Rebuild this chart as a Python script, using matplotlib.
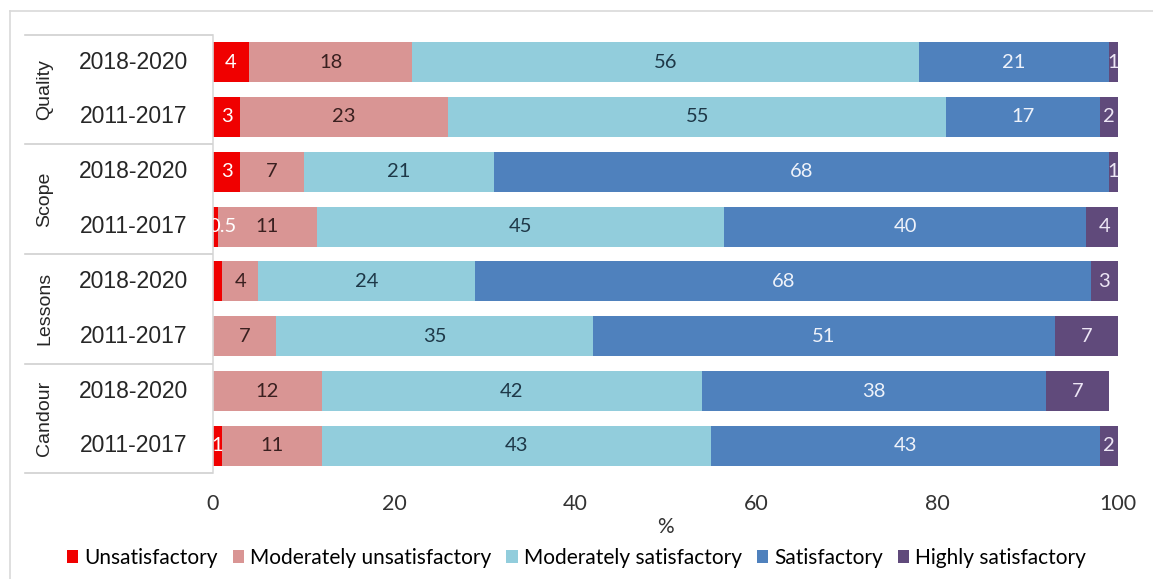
import matplotlib
matplotlib.use("Agg")
import matplotlib.pyplot as plt
from matplotlib.lines import Line2D
from matplotlib.patches import Patch

# Evaluation ratings by criterion and period (%)
criteria = ["Quality", "Scope", "Lessons", "Candour"]
periods = ["2018-2020", "2011-2017"]
rating_names = ["Unsatisfactory", "Moderately unsatisfactory",
                "Moderately satisfactory", "Satisfactory", "Highly satisfactory"]

# rows in drawing order: (criterion, period)
unsatisfactory = [4, 3, 3, 0.5, 1, 0, 0, 1]
moderately_unsatisfactory = [18, 23, 7, 11, 4, 7, 12, 11]
moderately_satisfactory = [56, 55, 21, 45, 24, 35, 42, 43]
satisfactory = [21, 17, 68, 40, 68, 51, 38, 43]
highly_satisfactory = [1, 2, 1, 4, 3, 7, 7, 2]

# which segments carry a printed value
label_shown = [
    [True, True, True, True, False, False, False, True],
    [True] * 8,
    [True] * 8,
    [True] * 8,
    [True] * 8,
]

series = [unsatisfactory, moderately_unsatisfactory, moderately_satisfactory,
          satisfactory, highly_satisfactory]
colors = ["#F00000", "#D99594", "#92CDDC", "#4F81BD", "#604A7B"]
text_colors = ["white", "#3A2020", "#1E3848", "#EEF2FA", "#EDE6F5"]

W, H = 1153, 579
fig = plt.figure(figsize=(W / 100, H / 100), dpi=100)
fig.patch.set_facecolor("white")

x0, x1 = 213, 1118
ytop, ybot = 34.6, 473.4
ax = fig.add_axes([x0 / W, 1 - ybot / H, (x1 - x0) / W, (ybot - ytop) / H])

n = len(unsatisfactory)
ypos = list(range(n))
left = [0.0] * n
for k, (vals, col) in enumerate(zip(series, colors)):
    ax.barh(ypos, vals, left=left, height=0.73, color=col, edgecolor="none")
    for i, v in enumerate(vals):
        if label_shown[k][i] and v > 0:
            xc = left[i] + v / 2
            if k == 0 and v < 1:
                xc = left[i] + 1.0
            ax.text(xc, i, f"{v:g}", ha="center", va="center",
                    fontsize=14.5, color=text_colors[k], family="Lato",
                    clip_on=True)
    left = [l + v for l, v in zip(left, vals)]

ax.set_xlim(0, 100)
ax.set_ylim(n - 0.5, -0.5)
ax.set_xticks([0, 20, 40, 60, 80, 100])
ax.tick_params(axis="x", length=0, pad=15, labelsize=15.5, labelcolor="#333333")
for lbl in ax.get_xticklabels():
    lbl.set_family("Lato")
ax.set_yticks([])
for s in ["top", "right", "bottom"]:
    ax.spines[s].set_visible(False)
ax.spines["left"].set_color("#D9D9D9")
ax.spines["left"].set_linewidth(1.2)
ax.set_xlabel("%", fontsize=15, family="Lato", color="#333333", labelpad=2)

# left-hand grouping table: criterion and period labels with separators
def fy(py):
    return 1 - py / H

row_h = (ybot - ytop) / n
for g, crit in enumerate(criteria):
    y_top_g = ytop + 2 * g * row_h
    fig.add_artist(Line2D([25 / W, 212 / W], [fy(y_top_g)] * 2,
                          color="#D0D0D0", lw=1.2))
    yc = y_top_g + row_h
    fig.text(45 / W, fy(yc), crit, rotation=90, ha="center", va="center",
             fontsize=14, color="#262626", family="Liberation Sans")
    for j, per in enumerate(periods):
        yr = y_top_g + (j + 0.5) * row_h
        fig.text(134 / W, fy(yr), per, ha="center", va="center",
                 fontsize=16.5, color="#262626", family="Liberation Sans")
fig.add_artist(Line2D([25 / W, 212 / W], [fy(ybot)] * 2,
                      color="#D0D0D0", lw=1.2))

# outer frame lines
fig.add_artist(Line2D([10 / W, 1], [fy(11)] * 2, color="#D9D9D9", lw=1.2))
fig.add_artist(Line2D([10 / W, 10 / W], [fy(11), 0], color="#D9D9D9", lw=1.2))

handles = [Patch(facecolor=c, edgecolor="none") for c in colors]
fig.legend(handles, rating_names, loc="center", bbox_to_anchor=(0.5, fy(558)),
           ncol=5, frameon=False, handlelength=0.55, handleheight=0.55,
           handletextpad=0.3, columnspacing=0.7,
           prop={"family": "Lato", "size": 15})

fig.savefig("out.png", dpi=100, facecolor="white")
